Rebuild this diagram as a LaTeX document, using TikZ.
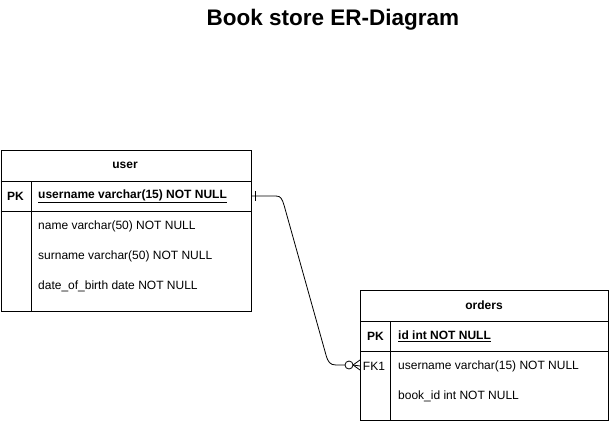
\documentclass[tikz,border=0pt]{standalone}
\usepackage{fontspec}
\setmainfont{Liberation Sans}
\begin{document}
\begin{tikzpicture}[x=1pt,y=-1pt,
  tbl/.style={draw,line width=0.9pt,rectangle,inner sep=0pt,anchor=north west},
  sep/.style={line width=0.9pt},
  cell/.style={anchor=west,inner sep=0pt,font=\fontsize{12}{14}\selectfont},
  key/.style={anchor=center,inner sep=0pt,font=\fontsize{12}{14}\selectfont},
  hdr/.style={anchor=center,inner sep=0pt,font=\fontsize{12}{14}\selectfont\bfseries},
  rel/.style={line width=0.8pt}]
\useasboundingbox (0,0) rectangle (611,421);
\node[font=\fontsize{22.5}{26}\selectfont\bfseries] (title) at (333,20) {Book store ER-Diagram};

% user table
\node[tbl,minimum width=250pt,minimum height=161pt] (user) at (0.5,150) {};
\draw[sep] (0.5,181) -- (250.5,181);
\draw[sep] (0.5,211) -- (250.5,211);
\draw[sep] (31,181) -- (31,311);
\node[hdr] (uh) at (125,165.5) {user};
\node[key,font=\fontsize{12}{14}\selectfont\bfseries] (upk) at (15.5,196) {PK};
\node[cell,font=\fontsize{12}{14}\selectfont\bfseries] (uf1) at (38,196) {\underline{username varchar(15) NOT NULL}};
\node[cell] (uf2) at (38,226) {name varchar(50) NOT NULL};
\node[cell] (uf3) at (38,256) {surname varchar(50) NOT NULL};
\node[cell] (uf4) at (38,286) {date\_of\_birth date NOT NULL};

% orders table
\node[tbl,minimum width=248pt,minimum height=130pt] (orders) at (360,290) {};
\draw[sep] (360,321) -- (608,321);
\draw[sep] (360,351) -- (608,351);
\draw[sep] (390,321) -- (390,420);
\node[hdr] (oh) at (484,305.5) {orders};
\node[key,font=\fontsize{12}{14}\selectfont\bfseries] (opk) at (375.5,336) {PK};
\node[cell,font=\fontsize{12}{14}\selectfont\bfseries] (of1) at (398,336) {\underline{id int NOT NULL}};
\node[key] (ofk) at (374,366) {FK1};
\node[cell] (of2) at (398,366) {username varchar(15) NOT NULL};
\node[cell] (of3) at (398,396) {book\_id int NOT NULL};

% relationship
\coordinate (a) at (user.east |- uf1);
\coordinate (b) at (orders.west |- of2);
\draw[rel] (a) -- (276,196) .. controls (281,196) and (282,199) .. (284,205)
  -- (326,355) .. controls (328,362) and (330,365) .. (336,365) -- (345,365);
\draw[rel] (255,191) -- (255,201);
\draw[rel] (349,365) circle (4);
\draw[rel] (353,365) -- (b);
\draw[rel] (353,365) -- (360,360);
\draw[rel] (353,365) -- (360,370);
\end{tikzpicture}
\end{document}
